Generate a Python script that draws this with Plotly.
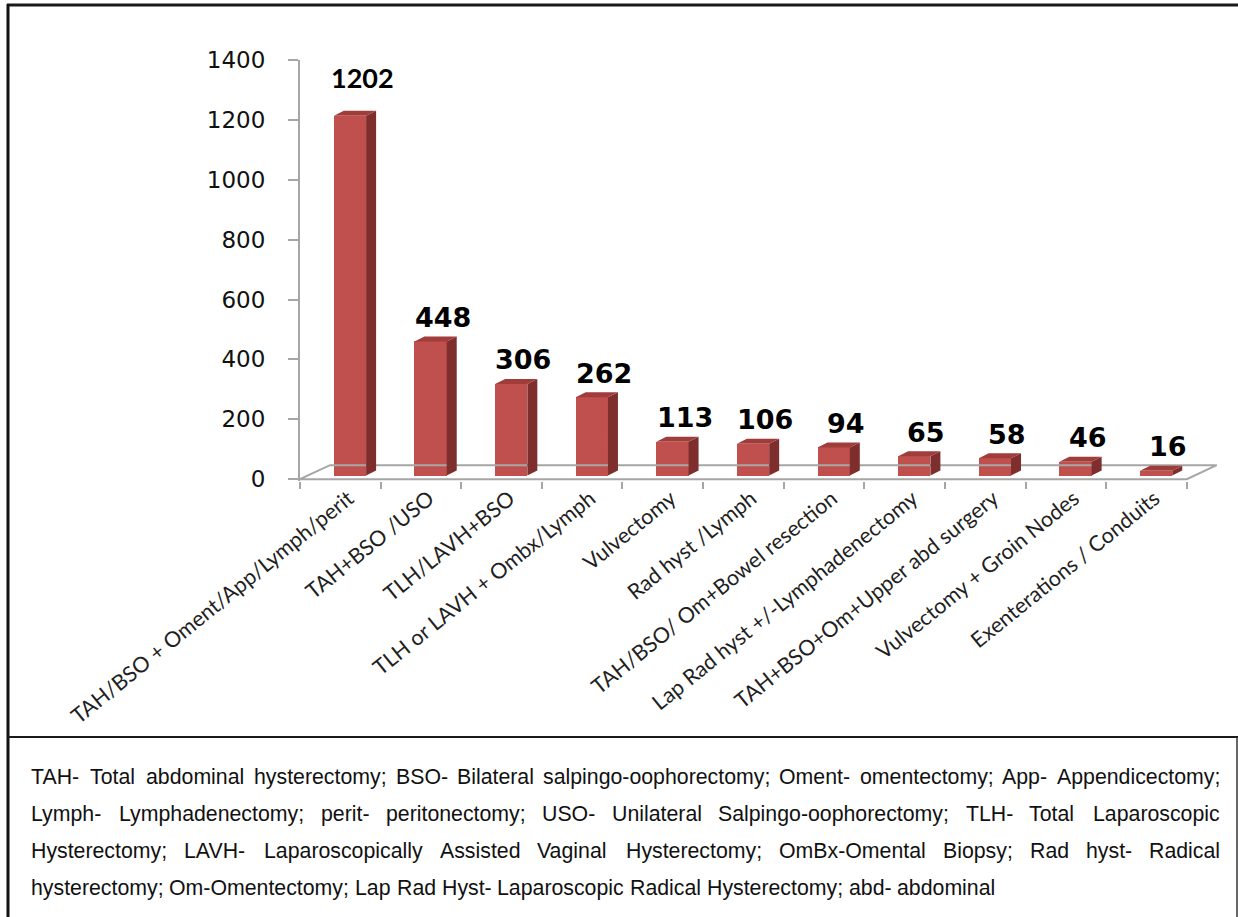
import numpy as np
import plotly.graph_objects as go

# ---------------- data ----------------
categories = [
    "TAH/BSO + Oment/App/Lymph/perit",
    "TAH+BSO /USO",
    "TLH/LAVH+BSO",
    "TLH or LAVH + Ombx/Lymph",
    "Vulvectomy",
    "Rad hyst /Lymph",
    "TAH/BSO/ Om+Bowel resection",
    "Lap Rad hyst +/-Lymphadenectomy",
    "TAH+BSO+Om+Upper abd surgery",
    "Vulvectomy + Groin Nodes",
    "Exenterations / Conduits",
]
counts = [1202, 448, 306, 262, 113, 106, 94, 65, 58, 46, 16]
y_ticks = [0, 200, 400, 600, 800, 1000, 1200, 1400]

footnote_lines = [
    "TAH- Total abdominal hysterectomy; BSO- Bilateral salpingo-oophorectomy; Oment- omentectomy; App- Appendicectomy;",
    "Lymph- Lymphadenectomy; perit- peritonectomy; USO- Unilateral Salpingo-oophorectomy; TLH- Total Laparoscopic",
    "Hysterectomy; LAVH- Laparoscopically Assisted Vaginal Hysterectomy; OmBx-Omental Biopsy; Rad hyst- Radical",
    "hysterectomy; Om-Omentectomy; Lap Rad Hyst- Laparoscopic Radical Hysterectomy; abd- abdominal",
]

# ---------------- layout geometry ----------------
W, H = 1238, 917
ML, MT, MR = 300, 60, 19
PH = 421
MB = H - MT - PH
PW = W - ML - MR
XR = [-0.5, 10.9]
YR = [-6, 1400]
ux = PW / (XR[1] - XR[0])      # px per x unit
uy = PH / (YR[1] - YR[0])      # px per y unit

def px2x(px):
    return (px - ML) / PW

def py2y(py):
    return (MT + PH - py) / PH

FRONT = "#C0504D"
SIDE = "#7E2E2C"
TOP = "#A03C39"
GRID = "#A6A6A6"

n = len(counts)
xs = np.arange(n)
off = 0.12          # bar front offset from category centre
hw = 0.2            # half-width of bar front
base = 12           # bars stand slightly behind the front edge
dxu = 10 / ux       # depth offset (x)
dyu = 5 / uy        # depth offset (y)
label_shift = [38] + [24] * (n - 1)

fig = go.Figure()

# floor of the 3-D chart
fx = [-0.5, 10.5, 10.5 + 30 / ux, -0.5 + 30 / ux, -0.5]
fy = [0, 0, 14 / uy, 14 / uy, 0]
fig.add_trace(go.Scatter(x=fx, y=fy, mode="lines",
                         line=dict(color=GRID, width=2),
                         hoverinfo="skip", showlegend=False))

# side and top faces
sx, sy, tx, ty = [], [], [], []
for i, v in zip(xs, counts):
    x0 = i + off - hw
    x1 = i + off + hw
    top = base + v
    sx += [x1, x1 + dxu, x1 + dxu, x1, x1, None]
    sy += [base, base + dyu, top + dyu, top, base, None]
    tx += [x0, x1, x1 + dxu, x0 + dxu, x0, None]
    ty += [top, top, top + dyu, top + dyu, top, None]

fig.add_trace(go.Scatter(x=sx, y=sy, mode="lines", fill="toself",
                         fillcolor=SIDE, line=dict(width=0, color=SIDE),
                         hoverinfo="skip", showlegend=False))
fig.add_trace(go.Scatter(x=tx, y=ty, mode="lines", fill="toself",
                         fillcolor=TOP, line=dict(width=0, color=TOP),
                         hoverinfo="skip", showlegend=False))

# front faces
fig.add_trace(go.Bar(x=xs + off, y=counts, base=base, width=2 * hw,
                     marker=dict(color=FRONT, line=dict(width=0)),
                     showlegend=False))

annotations = []
# value labels
for i, v in zip(xs, counts):
    fam = "Lato" if i == 0 else "DejaVu Sans"
    annotations.append(dict(
        x=i + off + 0.15, y=base + v, xref="x", yref="y",
        text=f"<b>{v}</b>", showarrow=False, yanchor="middle",
        yshift=label_shift[i], font=dict(family=fam, size=27, color="#000000")))

# footnote (justified like the original)
AW = {' ': 278, 'a': 556, 'b': 556, 'c': 500, 'd': 556, 'e': 556, 'f': 278,
      'g': 556, 'h': 556, 'i': 222, 'j': 222, 'k': 500, 'l': 222, 'm': 833,
      'n': 556, 'o': 556, 'p': 556, 'q': 556, 'r': 333, 's': 500, 't': 278,
      'u': 556, 'v': 500, 'w': 722, 'x': 500, 'y': 500, 'z': 500,
      'A': 667, 'B': 667, 'C': 722, 'D': 722, 'E': 667, 'F': 611, 'G': 778,
      'H': 722, 'I': 278, 'J': 500, 'K': 667, 'L': 556, 'M': 833, 'N': 722,
      'O': 778, 'P': 667, 'Q': 778, 'R': 722, 'S': 667, 'T': 611, 'U': 722,
      'V': 667, 'W': 944, 'X': 667, 'Y': 667, 'Z': 611, '-': 333, ';': 278,
      '/': 278, '+': 584, '.': 278, ',': 278}
FS = 21.3

def tw(s):
    return sum(AW.get(c, 556) for c in s) * FS / 1000.0

left_px, right_px = 30, 1219
line_py = [777, 814, 851, 888]
for k, line in enumerate(footnote_lines):
    words = line.split(" ")
    justify = k < len(footnote_lines) - 1
    widths = [tw(w) for w in words]
    if justify and len(words) > 1:
        gap = (right_px - left_px - sum(widths)) / (len(words) - 1)
    else:
        gap = tw(" ")
    cur = left_px
    for w, wd in zip(words, widths):
        annotations.append(dict(
            x=px2x(cur), y=py2y(line_py[k]), xref="paper", yref="paper",
            text=w, showarrow=False, xanchor="left", yanchor="middle",
            borderpad=0,
            font=dict(family="Liberation Sans", size=FS, color="#111111")))
        cur += wd + gap

# frame lines
shapes = [
    dict(type="line", xref="paper", yref="paper", x0=px2x(7), x1=px2x(1240),
         y0=py2y(5), y1=py2y(5), line=dict(color="#1a1a1a", width=3)),
    dict(type="line", xref="paper", yref="paper", x0=px2x(8), x1=px2x(8),
         y0=py2y(4), y1=py2y(920), line=dict(color="#111111", width=3)),
    dict(type="line", xref="paper", yref="paper", x0=px2x(8), x1=px2x(1240),
         y0=py2y(737), y1=py2y(737), line=dict(color="#1a1a1a", width=2)),
    dict(type="line", xref="paper", yref="paper", x0=px2x(1237), x1=px2x(1237),
         y0=py2y(737), y1=py2y(920), line=dict(color="#333333", width=1.5)),
]

fig.update_layout(
    width=W, height=H,
    margin=dict(l=ML, r=MR, t=MT, b=MB, autoexpand=False),
    paper_bgcolor="white", plot_bgcolor="white",
    bargap=0, showlegend=False,
    annotations=annotations, shapes=shapes,
    xaxis=dict(range=XR, showgrid=False, zeroline=False, showline=False,
               tickmode="array", tickvals=xs + 0.1, ticktext=categories,
               tickangle=-39, ticks="",
               tickfont=dict(family="Lato", size=21.5, color="#1f1f1f"),
               minor=dict(tickmode="array", tickvals=list(np.arange(-0.5, 11, 1.0)),
                          ticks="outside", ticklen=7, tickwidth=2,
                          tickcolor=GRID, showgrid=False)),
    yaxis=dict(range=YR, showgrid=False, zeroline=False, showline=True,
               linecolor=GRID, linewidth=2,
               tickmode="array", tickvals=y_ticks,
               ticks="outside", ticklen=10, tickwidth=2, tickcolor=GRID,
               ticklabelstandoff=18,
               tickfont=dict(family="DejaVu Sans", size=23, color="#111111")),
)

fig.write_html("out.html")
